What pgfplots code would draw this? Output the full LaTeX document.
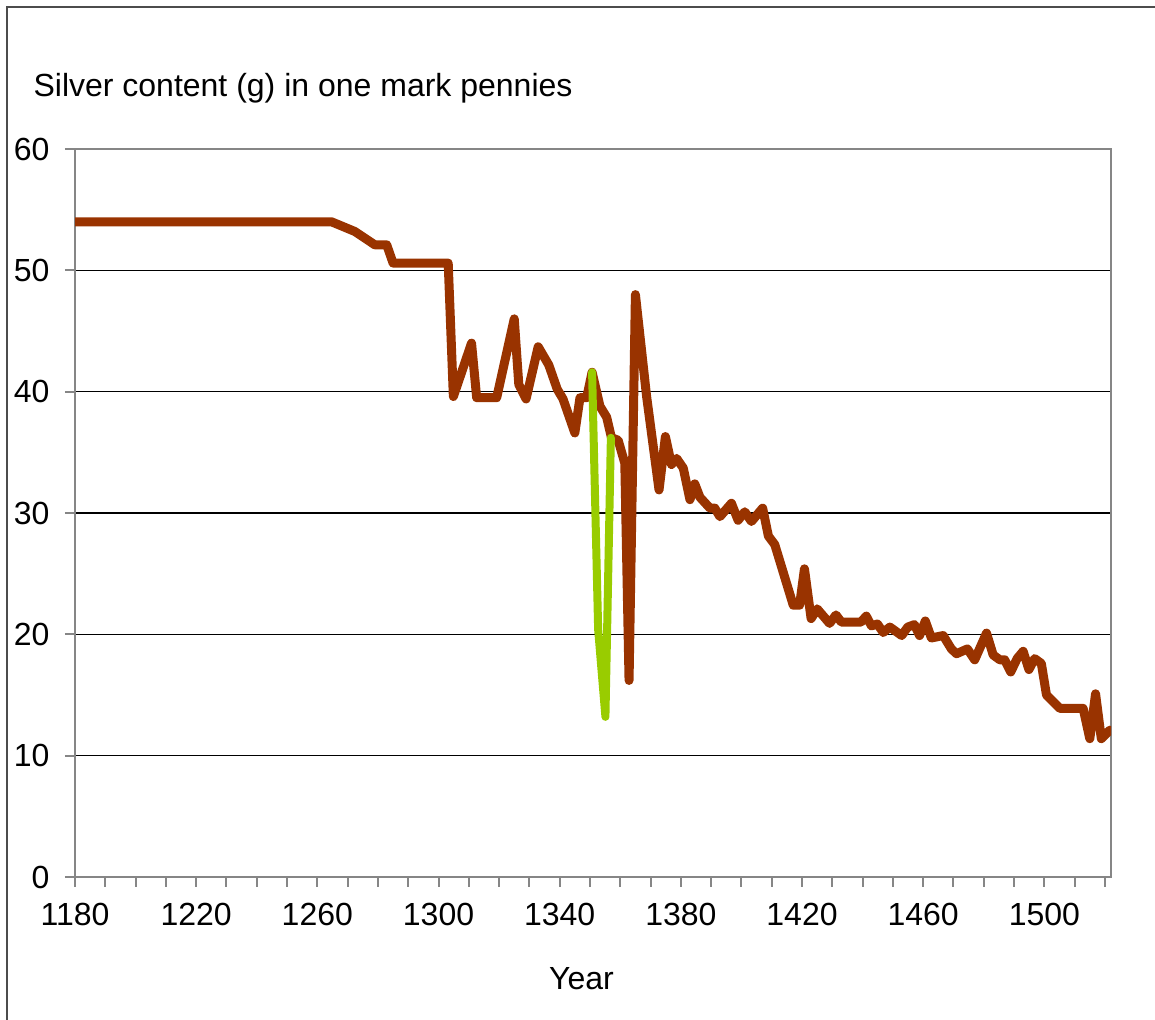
\documentclass[border=0pt]{standalone}
\usepackage{fontspec}
\setmainfont{Liberation Sans}
\usepackage{pgfplots}
\pgfplotsset{compat=1.18}
\definecolor{brn}{HTML}{993300}
\definecolor{grn}{HTML}{99CC00}
\definecolor{axgray}{HTML}{868686}
\newlength\pxu
\setlength\pxu{0.35pt}
\begin{document}
\begin{tikzpicture}[font=\fontsize{11.2}{13.5}\selectfont]
\path[use as bounding box] (0,0) rectangle (1155\pxu,-1020\pxu);
\draw[gray!60!black, line width=2\pxu] (7\pxu,-1020\pxu) -- (7\pxu,-7\pxu) -- (1155\pxu,-7\pxu);
\node[anchor=base west, inner sep=0pt] at (33\pxu,-96.5\pxu) {Silver content (g) in one mark pennies};
\begin{axis}[
  at={(75\pxu,-877\pxu)}, anchor=south west,
  scale only axis, width=1036\pxu, height=728\pxu,
  xmin=1180, xmax=1522, ymin=0, ymax=60,
  xtick={1180,1220,...,1500},
  minor xtick={1190,1200,...,1520},
  ytick={0,10,...,60},
  tick pos=left, tick align=outside,
  major tick length=10\pxu, minor tick length=10\pxu,
  every tick/.style={draw=axgray, line width=2\pxu},
  axis line style={draw=axgray, line width=2.5\pxu},
  ymajorgrids, major grid style={draw=black, line width=1.2\pxu},
  /pgf/number format/assume math mode=true,
  /pgf/number format/1000 sep={},
  xticklabel style={inner sep=0pt, anchor=north, yshift=-16\pxu},
  yticklabel style={inner sep=0pt, anchor=east, xshift=-15\pxu},
  xlabel={Year},
  xlabel style={at={(axis description cs:0.4889,0)}, anchor=base, inner sep=0pt, yshift=-113\pxu},
]
\addplot[brn, line width=9\pxu, line join=round, line cap=round] coordinates {
(1180,54) (1264.7,54) (1272.4,53.2) (1279.0,52.1) (1282.9,52.1) (1285.0,50.6)
(1303.2,50.6) (1304.9,39.6) (1310.9,44.0) (1312.6,39.5) (1319.2,39.5) (1325.0,46.0)
(1326.5,40.6) (1328.9,39.4) (1332.9,43.7) (1336.4,42.2) (1339.2,40.2) (1341.1,39.4)
(1345.0,36.6) (1346.7,39.5) (1348.9,39.5) (1350.7,41.6) (1353.3,38.8) (1355.5,37.9)
(1357.1,36.2) (1359.3,36.0) (1361.5,34.1) (1362.9,16.2) (1365.0,48.0) (1368.7,39.6)
(1372.8,31.9) (1374.9,36.3) (1376.9,34.0) (1378.6,34.5) (1380.8,33.7) (1383.0,31.1)
(1384.6,32.4) (1386.3,31.3) (1389.6,30.4) (1391.2,30.4) (1392.9,29.7) (1396.7,30.8)
(1398.9,29.4) (1401.1,30.1) (1403.3,29.3) (1407.0,30.4) (1408.9,28.1) (1411.0,27.4)
(1417.1,22.4) (1419.2,22.4) (1420.8,25.4) (1423.0,21.3) (1425.0,22.1) (1429.1,20.9)
(1431.2,21.6) (1433.0,21.0) (1439.4,21.0) (1441.2,21.5) (1442.9,20.7) (1444.9,20.85)
(1446.8,20.15) (1449.0,20.6) (1452.9,19.9) (1454.9,20.6) (1457.1,20.8) (1458.8,19.9)
(1460.7,21.1) (1462.7,19.7) (1466.6,19.9) (1469.3,18.8) (1471.0,18.4) (1474.6,18.8)
(1477.0,17.9) (1480.9,20.1) (1483.1,18.3) (1485.3,17.9) (1486.9,17.9) (1488.9,16.9)
(1491.0,18.0) (1493.0,18.6) (1494.9,17.1) (1496.8,18.0) (1499.0,17.6) (1500.7,15.0)
(1505.1,13.9) (1512.8,13.9) (1515.0,11.4) (1516.9,15.1) (1518.8,11.4) (1521.6,12.1)
};
\addplot[grn, line width=8\pxu, line join=round, line cap=round] coordinates {
(1350.7,41.6) (1352.7,20.4) (1355.1,13.2) (1356.9,36.2)
};
\end{axis}
\end{tikzpicture}
\end{document}
